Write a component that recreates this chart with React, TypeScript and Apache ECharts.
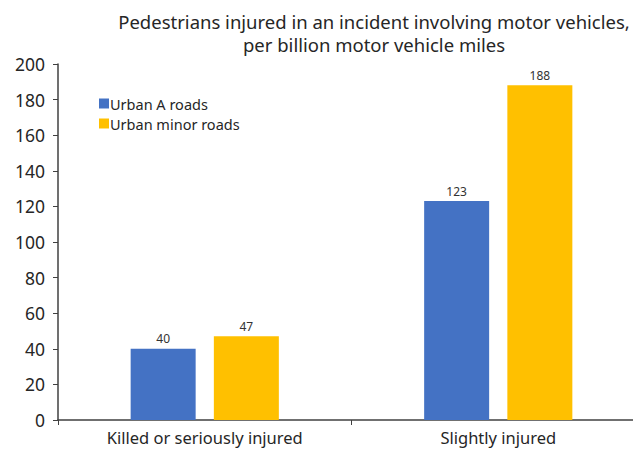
import React, { useEffect, useRef } from "react";
import * as echarts from "echarts";

const categories = ["Killed or seriously injured", "Slightly injured"];
const urbanA = [40, 123];
const urbanMinor = [47, 188];
const seriesNames = ["Urban A roads", "Urban minor roads"];
const titleLines = [
  "Pedestrians injured in an incident involving motor vehicles,",
  "per billion motor vehicle miles",
];

const FONT = "'Noto Sans', 'Open Sans', sans-serif";

export default function App() {
  const ref = useRef<HTMLDivElement>(null);
  useEffect(() => {
    if (!ref.current) return;
    const chart = echarts.init(ref.current, null, { renderer: "svg" });
    const label = {
      show: true,
      position: "top" as const,
      distance: 4,
      color: "#333",
      fontSize: 12,
      fontFamily: FONT,
    };
    chart.setOption({
      animation: false,
      backgroundColor: "#fff",
      textStyle: { fontFamily: FONT },
      title: {
        text: titleLines.join("\n"),
        left: 369,
        top: 5,
        textAlign: "center",
        textStyle: {
          fontSize: 18.5,
          fontWeight: "normal",
          color: "#262626",
          lineHeight: 23,
          fontFamily: FONT,
        },
      },
      legend: {
        orient: "vertical",
        left: 94,
        top: 91,
        itemWidth: 10,
        itemHeight: 10,
        itemGap: 5,
        icon: "rect",
        textStyle: { fontSize: 14.5, color: "#262626", fontFamily: FONT, padding: [0, 0, 0, -4] },
        data: seriesNames,
      },
      grid: { left: 58, right: 0, top: 64, bottom: 30, containLabel: false },
      xAxis: {
        type: "category",
        data: categories,
        axisLine: { lineStyle: { color: "#404040", width: 1.5 } },
        axisTick: { show: true, length: 5, lineStyle: { color: "#404040" } },
        axisLabel: { fontSize: 16.5, color: "#262626", margin: 9, fontFamily: FONT },
      },
      yAxis: {
        type: "value",
        min: 0,
        max: 200,
        interval: 20,
        splitLine: { show: false },
        axisLine: { show: true, lineStyle: { color: "#404040", width: 1.5 } },
        axisTick: { show: true, length: 5, lineStyle: { color: "#404040" } },
        axisLabel: { fontSize: 17.5, color: "#262626", margin: 13, fontFamily: FONT },
      },
      series: [
        {
          name: seriesNames[0],
          type: "bar",
          data: urbanA,
          barWidth: 65,
          barGap: "28%",
          itemStyle: { color: "#4472C4" },
          label,
        },
        {
          name: seriesNames[1],
          type: "bar",
          data: urbanMinor,
          barWidth: 65,
          barGap: "28%",
          itemStyle: { color: "#FFC000" },
          label,
        },
      ],
    });
    return () => chart.dispose();
  }, []);
  return (
    <div style={{ width: 633, height: 450, position: "absolute", left: 0, top: 0, overflow: "hidden", background: "#fff" }}>
      <div ref={ref} style={{ width: 645, height: 450 }} />
    </div>
  );
}
